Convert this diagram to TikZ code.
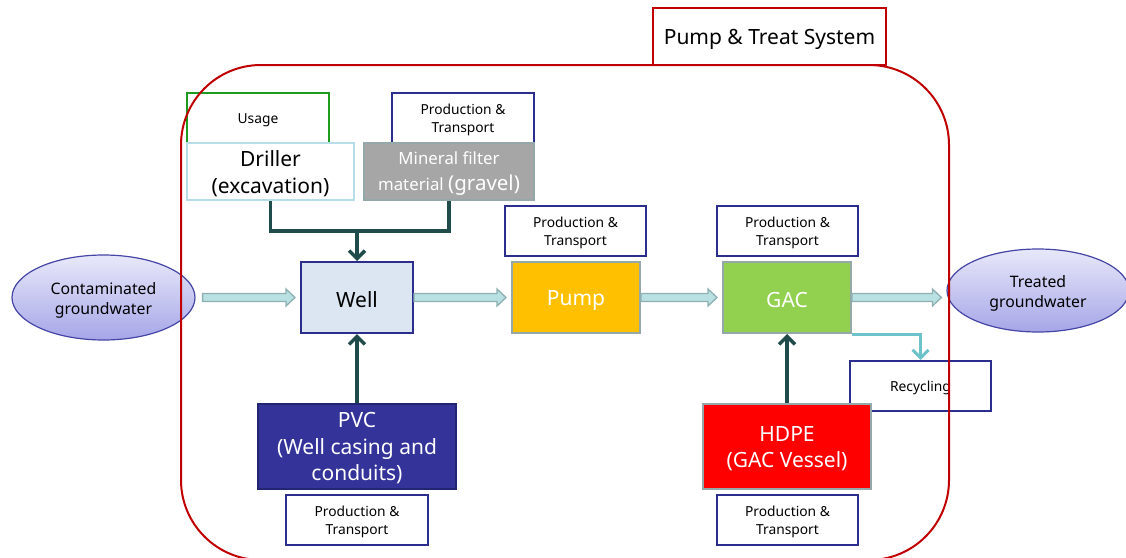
\documentclass[tikz,border=0pt]{standalone}
\usepackage{fontspec}
\setmainfont{Noto Sans}
\usetikzlibrary{arrows.meta,shapes.geometric,calc}

\definecolor{framered}{HTML}{C00000}
\definecolor{navyline}{HTML}{2B2E8C}
\definecolor{usagegreen}{HTML}{1E9A1E}
\definecolor{drillerline}{HTML}{B7DDE8}
\definecolor{greyline}{HTML}{94A8AA}
\definecolor{wellfill}{HTML}{DCE6F2}
\definecolor{pumpfill}{HTML}{FFC000}
\definecolor{gacfill}{HTML}{92D050}
\definecolor{pvcfill}{HTML}{333399}
\definecolor{mineralfill}{HTML}{A6A6A6}
\definecolor{darkteal}{HTML}{1F4B4B}
\definecolor{lightteal}{HTML}{6CC4CA}
\definecolor{flowfill}{HTML}{B9E0E2}
\definecolor{flowline}{HTML}{8EB0B2}
\definecolor{ovaltop}{HTML}{E8E8FA}
\definecolor{ovalbottom}{HTML}{A6A6E8}
\definecolor{ovalline}{HTML}{4545A5}

\newcommand{\smallfont}{\fontsize{13.8}{17.5}\selectfont}
\newcommand{\bigfont}{\fontsize{21}{26.5}\selectfont}
\newcommand{\ovalfont}{\fontsize{15.8}{20}\selectfont}

% wide flow arrow between two anchors on one horizontal line
\newcommand{\flowarrow}[3]{%
  \draw[flowline,fill=flowfill,line width=1.3pt,line join=miter]
    let \p1=#1, \p2=#2 in
    (\x1+#3, \y1+4pt) -- (\x2-14pt, \y1+4pt) -- (\x2-14pt, \y1+8.5pt)
    -- (\x2-5pt, \y1) -- (\x2-14pt, \y1-8.5pt) -- (\x2-14pt, \y1-4pt)
    -- (\x1+#3, \y1-4pt) -- cycle;}

\begin{document}
\begin{tikzpicture}[x=1pt,y=-1pt,
  % a taller line sets single-line text a little lower in its box
  box/.style={rectangle,inner sep=0pt,line width=2pt,align=center,
              execute at begin node={\rule{0pt}{1.0em}}},
  ptbox/.style={box,draw=navyline,fill=white,minimum width=141pt,minimum height=50pt},
  % text of several lines, set slightly below its box centre
  caption/.style={inner sep=0pt,align=center,yshift=-2pt},
  oval/.style={ellipse,inner sep=0pt,draw=ovalline,line width=1.2pt,top color=ovaltop,bottom color=ovalbottom},
  feed/.style={darkteal,line width=3.5pt,line join=miter},
  feedtip/.style={-{Straight Barb[length=8pt,width=16pt]}},
]
\useasboundingbox (0,0) rectangle (1126,557);

% title tab
\node[box,draw=framered,fill=white,minimum width=233pt,minimum height=57pt,
      font=\fontsize{21}{24}\selectfont] (title) at (769.5,36.5) {Pump \& Treat System};

% inputs and outputs
\node[oval,minimum width=183pt,minimum height=85pt] (contam) at (103.5,297.5) {};
\node[caption,font=\ovalfont,yshift=-1pt] (contam-text) at (contam.center) {Contaminated\\groundwater};
\node[oval,minimum width=182pt,minimum height=83pt] (treated) at (1038,290.5) {};
\node[caption,font=\ovalfont,yshift=-1pt] (treated-text) at (treated.center) {Treated\\groundwater};

% upper row
\node[box,draw=usagegreen,fill=white,minimum width=142pt,minimum height=50pt,font=\smallfont] (usage) at (258,118) {Usage};
\node[box,draw=drillerline,fill=white,minimum width=167pt,minimum height=57pt] (driller) at (270.5,171.5) {};
\node[caption,font=\bigfont] (driller-text) at (driller.center) {Driller\\(excavation)};
\node[ptbox,minimum width=142pt] (ptmineral) at (463,118) {};
\node[caption,font=\smallfont] (ptmineral-text) at (ptmineral.center) {Production \&\\Transport};
\node[box,draw=greyline,fill=mineralfill,minimum width=170pt,minimum height=57pt] (mineral) at (449,171.5) {};
\node[caption,text=white,font=\fontsize{16.8}{26}\selectfont] (mineral-text) at (mineral.center)
      {Mineral filter\\material {\fontsize{20.5}{26}\selectfont(gravel)}};

% treatment train
\node[box,draw=navyline,fill=wellfill,minimum width=112pt,minimum height=71pt,font=\bigfont] (well) at (357,297.5) {Well};
\node[box,draw=greyline,fill=pumpfill,text=white,minimum width=128pt,minimum height=71pt,font=\bigfont] (pump) at (576,297.5) {Pump};
\node[box,draw=greyline,fill=gacfill,text=white,minimum width=128pt,minimum height=71pt,font=\bigfont] (gac) at (787,297.5) {GAC};
\node[ptbox] (ptpump) at (575.5,231) {};
\node[caption,font=\smallfont] (ptpump-text) at (ptpump.center) {Production \&\\Transport};
\node[ptbox] (ptgac) at (787.5,231) {};
\node[caption,font=\smallfont] (ptgac-text) at (ptgac.center) {Production \&\\Transport};

% lower row
\node[ptbox,font=\smallfont] (recycling) at (920.5,386) {Recycling};
\node[box,draw=greyline,fill=red,minimum width=168pt,minimum height=85pt] (hdpe) at (787,446.5) {};
\node[caption,text=white,font=\bigfont] (hdpe-text) at (hdpe.center) {HDPE\\(GAC Vessel)};
\node[ptbox] (pthdpe) at (787.5,520) {};
\node[caption,font=\smallfont] (pthdpe-text) at (pthdpe.center) {Production \&\\Transport};
\node[box,draw=navyline!80!black,fill=pvcfill,minimum width=198pt,minimum height=85pt] (pvc) at (357,446.5) {};
\node[caption,text=white,font=\bigfont] (pvc-text) at (pvc.center) {PVC\\(Well casing and\\conduits)};
\node[ptbox,minimum width=142pt] (ptpvc) at (357,520) {};
\node[caption,font=\smallfont] (ptpvc-text) at (ptpvc.center) {Production \&\\Transport};

% feeds into the well and the GAC unit
\coordinate (join) at (357,231);
\draw[feed] (driller.south) |- (join) -| (mineral.south);
\draw[feed,feedtip] (join) -- (well.north);
\draw[feed,feedtip] (pvc.north) -- (well.south);
\draw[feed,feedtip] (hdpe.north) -- (gac.south);
\draw[lightteal,line width=3pt,-{Straight Barb[length=8pt,width=16pt]}]
  (gac.south east) -| (recycling.north);

% water flow
\flowarrow{(contam.east)}{(well.west)}{7pt}
\flowarrow{(well.east)}{(pump.west)}{0pt}
\flowarrow{(pump.east)}{(gac.west)}{0pt}
\flowarrow{(gac.east)}{(treated.west)}{0pt}

% system boundary
\draw[framered,line width=2pt,rounded corners=80pt] (181,65) rectangle (949,560);
\end{tikzpicture}
\end{document}
